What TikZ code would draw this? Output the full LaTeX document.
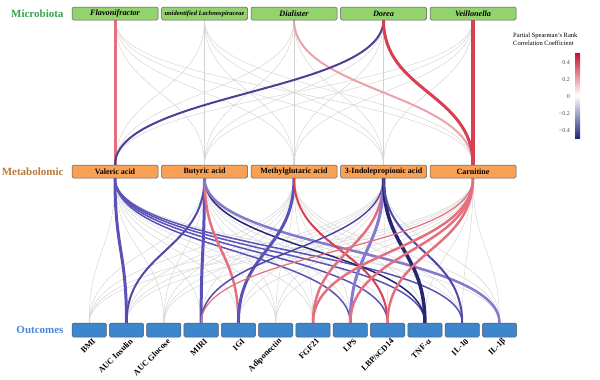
\documentclass[tikz,border=0pt]{standalone}
\usepackage{fontspec}
\setmainfont{Liberation Serif}
\usepackage{xcolor}
\usetikzlibrary{positioning,backgrounds}

\definecolor{microgreen}{HTML}{92D36E}
\definecolor{metaorange}{HTML}{F8A154}
\definecolor{outblue}{HTML}{3D85CC}
\definecolor{tiergreen}{HTML}{3BA34A}
\definecolor{tierbrown}{HTML}{B87A3E}
\definecolor{tierblue}{HTML}{4A88D0}
\definecolor{posred}{HTML}{D8404F}
\definecolor{lightred}{HTML}{E4707F}
\definecolor{palered}{HTML}{EAA3AD}
\definecolor{negblue}{HTML}{5A52B6}
\definecolor{navyblue}{HTML}{262672}
\definecolor{lavblue}{HTML}{8479CC}
\definecolor{barred}{HTML}{C8102E}
\definecolor{barblue}{HTML}{1F2A7A}

\newcommand{\linkcurve}[3]{\draw[#1] (#2.south) .. controls +(0,72) and +(0,-72) .. (#3.north);}

\begin{document}
\begin{tikzpicture}[
  x=1pt, y=-1pt,
  node distance=3.5pt,
  box/.style={rectangle, draw=gray!70!black, rounded corners=1.5pt, minimum height=13pt, inner sep=0pt, outer sep=0pt, line width=0.5pt},
  micro/.style={box, fill=microgreen, minimum width=86pt, font=\fontsize{8.2}{9}\selectfont\bfseries\itshape},
  metab/.style={box, fill=metaorange, minimum width=86pt, font=\fontsize{8}{9}\selectfont\bfseries},
  outc/.style={box, fill=outblue, minimum width=34.3pt, minimum height=14pt},
  tier/.style={font=\fontsize{11}{13}\selectfont\bfseries},
  olab/.style={font=\fontsize{8.3}{9}\selectfont\bfseries, rotate=45, anchor=east, inner sep=0pt},
  tick/.style={font=\fontsize{6}{7}\selectfont, text=gray!60!black, anchor=east, inner sep=0pt},
  faint/.style={draw=gray!35, line width=0.45pt},
  link/.style={line width=#1}
]
  \useasboundingbox (0,0) rectangle (600,380);

  % microbiota
  \node[micro] (mb1) at (115,13.5) {Flavonifractor};
  \node[micro, right=of mb1, font=\fontsize{6.5}{7}\selectfont\bfseries\itshape] (mb2) {unidentified Lachnospiraceae};
  \node[micro, right=of mb2] (mb3) {Dialister};
  \node[micro, right=of mb3] (mb4) {Dorea};
  \node[micro, right=of mb4] (mb5) {Veillonella};

  % metabolites
  \node[metab] (met1) at (115,171.5) {Valeric acid};
  \node[metab, right=of met1] (met2) {Butyric acid};
  \node[metab, right=of met2] (met3) {Methylglutaric acid};
  \node[metab, right=of met3] (met4) {3-Indolepropionic acid};
  \node[metab, right=of met4] (met5) {Carnitine};

  % outcomes
  \node[outc] (out1) at (89.2,330) {};
  \node[outc, right=3pt of out1] (out2) {};
  \node[outc, right=3pt of out2] (out3) {};
  \node[outc, right=3pt of out3] (out4) {};
  \node[outc, right=3pt of out4] (out5) {};
  \node[outc, right=3pt of out5] (out6) {};
  \node[outc, right=3pt of out6] (out7) {};
  \node[outc, right=3pt of out7] (out8) {};
  \node[outc, right=3pt of out8] (out9) {};
  \node[outc, right=3pt of out9] (out10) {};
  \node[outc, right=3pt of out10] (out11) {};
  \node[outc, right=3pt of out11] (out12) {};

  \foreach \i/\txt in {1/BMI, 2/AUC Insulin, 3/AUC Glucose, 4/MIRI, 5/IGI, 6/Adiponectin,
                       7/FGF21, 8/LPS, 9/{LBP/sCD14}, 10/TNF-α, 11/IL-10, 12/IL-1β}
    \node[olab] (lab\i) at ([xshift=5pt,yshift=-3pt]out\i.south) {\txt};

  % tier labels
  \node[tier, text=tiergreen, left=5pt of mb1] (tmicro) {Microbiota};
  \node[tier, text=tierbrown, left=5pt of met1] (tmetab) {Metabolomic};
  \node[tier, text=tierblue, left=5pt of out1] (toutc) {Outcomes};

  % legend
  \node[anchor=north west, align=left, inner sep=0pt, font=\fontsize{6.5}{8}\selectfont] (legtitle) at (513,33)
    {Partial Spearman's Rank\\Correlation Coefficient};
  \shade[top color=barred, bottom color=barblue, middle color=white] (575,53) rectangle (580,138);
  \node[tick] (t1) at (570,63) {0.4};
  \node[tick] (t2) at (570,80) {0.2};
  \node[tick] (t3) at (570,97) {0};
  \node[tick] (t4) at (570,114) {−0.2};
  \node[tick] (t5) at (570,131) {−0.4};

  \begin{scope}[on background layer]
    % all pairs in grey
    \foreach \i in {1,...,5}
      \foreach \j in {1,...,5}
        {\linkcurve{faint}{mb\i}{met\j}}
    \foreach \i in {1,...,5}
      \foreach \j in {1,...,12}
        {\linkcurve{faint}{met\i}{out\j}}

    % microbiota -> metabolites
    \linkcurve{link=3pt, lightred}{mb1}{met1}
    \linkcurve{link=2pt, palered}{mb3}{met5}
    \linkcurve{link=2pt, negblue!80!black}{mb4}{met1}
    \linkcurve{link=3pt, posred}{mb4}{met5}
    \linkcurve{link=3.5pt, posred}{mb5}{met5}

    % metabolites -> outcomes
    \linkcurve{link=1.5pt, negblue}{met1}{out8}
    \linkcurve{link=1.5pt, negblue}{met1}{out9}
    \linkcurve{link=1.5pt, negblue}{met1}{out10}
    \linkcurve{link=1.5pt, negblue}{met1}{out11}
    \linkcurve{link=3pt, negblue}{met1}{out2}

    \linkcurve{link=2pt, negblue!90!black}{met2}{out2}
    \linkcurve{link=3pt, negblue}{met2}{out4}
    \linkcurve{link=2.5pt, lightred}{met2}{out5}
    \linkcurve{link=1.5pt, navyblue}{met2}{out10}
    \linkcurve{link=2.5pt, lavblue}{met2}{out12}

    \linkcurve{link=3pt, negblue}{met3}{out5}
    \linkcurve{link=2pt, posred}{met3}{out9}

    \linkcurve{link=1.5pt, negblue!90!black}{met4}{out4}
    \linkcurve{link=2.5pt, lightred}{met4}{out7}
    \linkcurve{link=3pt, lavblue}{met4}{out8}
    \linkcurve{link=3.5pt, navyblue}{met4}{out10}
    \linkcurve{link=2pt, negblue!90!black}{met4}{out11}

    \linkcurve{link=1.2pt, lightred}{met5}{out4}
    \linkcurve{link=2.5pt, lightred}{met5}{out7}
    \linkcurve{link=2.5pt, lightred}{met5}{out8}
    \linkcurve{link=2.5pt, lightred}{met5}{out9}
  \end{scope}
\end{tikzpicture}
\end{document}
